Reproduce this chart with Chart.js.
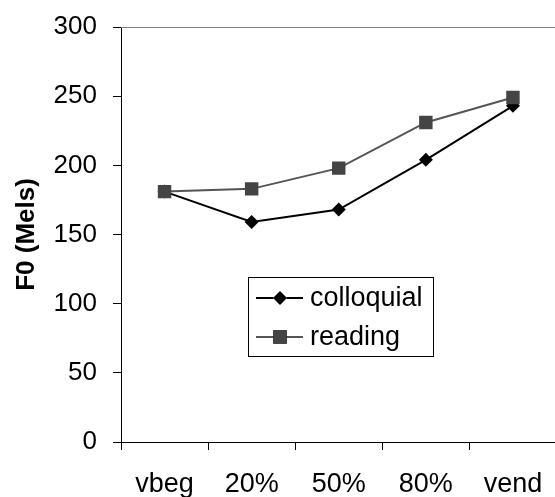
<!DOCTYPE html>
<html>
<head>
<meta charset="utf-8">
<script src="https://cdn.jsdelivr.net/npm/chart.js@4"></script>
<style>
  html, body { margin: 0; padding: 0; background: #fff; overflow: hidden; }
  #wrap { width: 555px; height: 497px; overflow: hidden; }
</style>
</head>
<body>
<div id="wrap"><canvas id="f0Chart" width="566" height="497"></canvas></div>
<script>
  const labels = ["vbeg", "20%", "50%", "80%", "vend"];
  const colloquial = [181, 159, 168, 204, 243];
  const reading = [181, 183, 198, 231, 249];
  const yTicks = [0, 50, 100, 150, 200, 250, 300];

  const font = "'Liberation Sans', Arial, sans-serif";

  // top border of the plot area (grey), like the spreadsheet frame
  const frame = {
    id: "frame",
    beforeDatasetsDraw(chart) {
      const { ctx, chartArea } = chart;
      ctx.save();
      ctx.strokeStyle = "#808080";
      ctx.lineWidth = 1;
      ctx.beginPath();
      ctx.moveTo(chartArea.left, chartArea.top + 0.5);
      ctx.lineTo(chartArea.right, chartArea.top + 0.5);
      ctx.stroke();
      ctx.restore();
    },
  };

  // boxed legend sitting inside the plot
  const boxLegend = {
    id: "boxLegend",
    afterDraw(chart) {
      const { ctx } = chart;
      const x = 248, y = 277, w = 185, h = 79;
      ctx.save();
      ctx.fillStyle = "#fff";
      ctx.fillRect(x, y, w, h);
      ctx.strokeStyle = "#000";
      ctx.lineWidth = 1;
      ctx.strokeRect(x + 0.5, y + 0.5, w, h);
      const rows = [0, 1].map((i) => chart.data.datasets[i]);
      rows.forEach((ds, i) => {
        const cy = 298 + i * 39;
        ctx.strokeStyle = ds.borderColor;
        ctx.lineWidth = 2;
        ctx.beginPath();
        ctx.moveTo(256, cy);
        ctx.lineTo(303, cy);
        ctx.stroke();
        Chart.helpers.drawPoint(ctx, {
          pointStyle: ds.pointStyle,
          radius: ds.pointRadius,
          borderWidth: 0,
        }, 280, cy);
        ctx.fillStyle = ds.pointBackgroundColor;
        ctx.fill();
        ctx.fillStyle = "#000";
        ctx.font = "27px " + font;
        ctx.textBaseline = "middle";
        ctx.textAlign = "left";
        ctx.fillText(ds.label, 310, cy + 1);
      });
      ctx.restore();
    },
  };

  new Chart(document.getElementById("f0Chart"), {
    type: "line",
    data: {
      labels: labels,
      datasets: [
        {
          label: "colloquial",
          data: colloquial,
          borderColor: "#000",
          borderWidth: 2,
          pointStyle: "rectRot",
          pointRadius: 7,
          pointBackgroundColor: "#000",
          pointBorderWidth: 0,
          tension: 0,
          order: 1,
        },
        {
          label: "reading",
          data: reading,
          borderColor: "#555",
          borderWidth: 2,
          pointStyle: "rect",
          pointRadius: 9.5,
          pointBackgroundColor: "#444",
          pointBorderWidth: 0,
          tension: 0,
          order: 0,
        },
      ],
    },
    options: {
      responsive: false,
      animation: false,
      devicePixelRatio: 1,
      layout: { padding: { top: 27, right: 5, left: 0, bottom: 0 } },
      plugins: {
        legend: { display: false },
        tooltip: { enabled: false },
      },
      scales: {
        x: {
          offset: true,
          grid: {
            offset: true,
            drawOnChartArea: false,
            drawTicks: true,
            tickLength: 8,
            color: "#000",
          },
          border: { display: true, color: "#000", width: 1 },
          ticks: {
            color: "#000",
            font: { family: font, size: 27 },
            padding: 18,
            maxRotation: 0,
            autoSkip: false,
          },
          afterFit(scale) {
            scale.height = 55;
          },
        },
        y: {
          min: 0,
          max: 300,
          afterBuildTicks(scale) {
            scale.ticks = yTicks.map((v) => ({ value: v }));
          },
          grid: {
            drawOnChartArea: false,
            drawTicks: true,
            tickLength: 8,
            color: "#000",
          },
          border: { display: true, color: "#000", width: 1 },
          ticks: {
            color: "#000",
            font: { family: font, size: 26 },
            padding: 16,
          },
          title: {
            display: true,
            text: "F0 (Mels)",
            color: "#000",
            font: { family: font, size: 26, weight: "bold" },
            padding: { top: 11, bottom: 0 },
          },
          afterFit(scale) {
            scale.width = 121;
            scale.paddingTop = 0;
            scale.paddingBottom = 0;
          },
        },
      },
    },
    plugins: [frame, boxLegend],
  });
</script>
</body>
</html>
